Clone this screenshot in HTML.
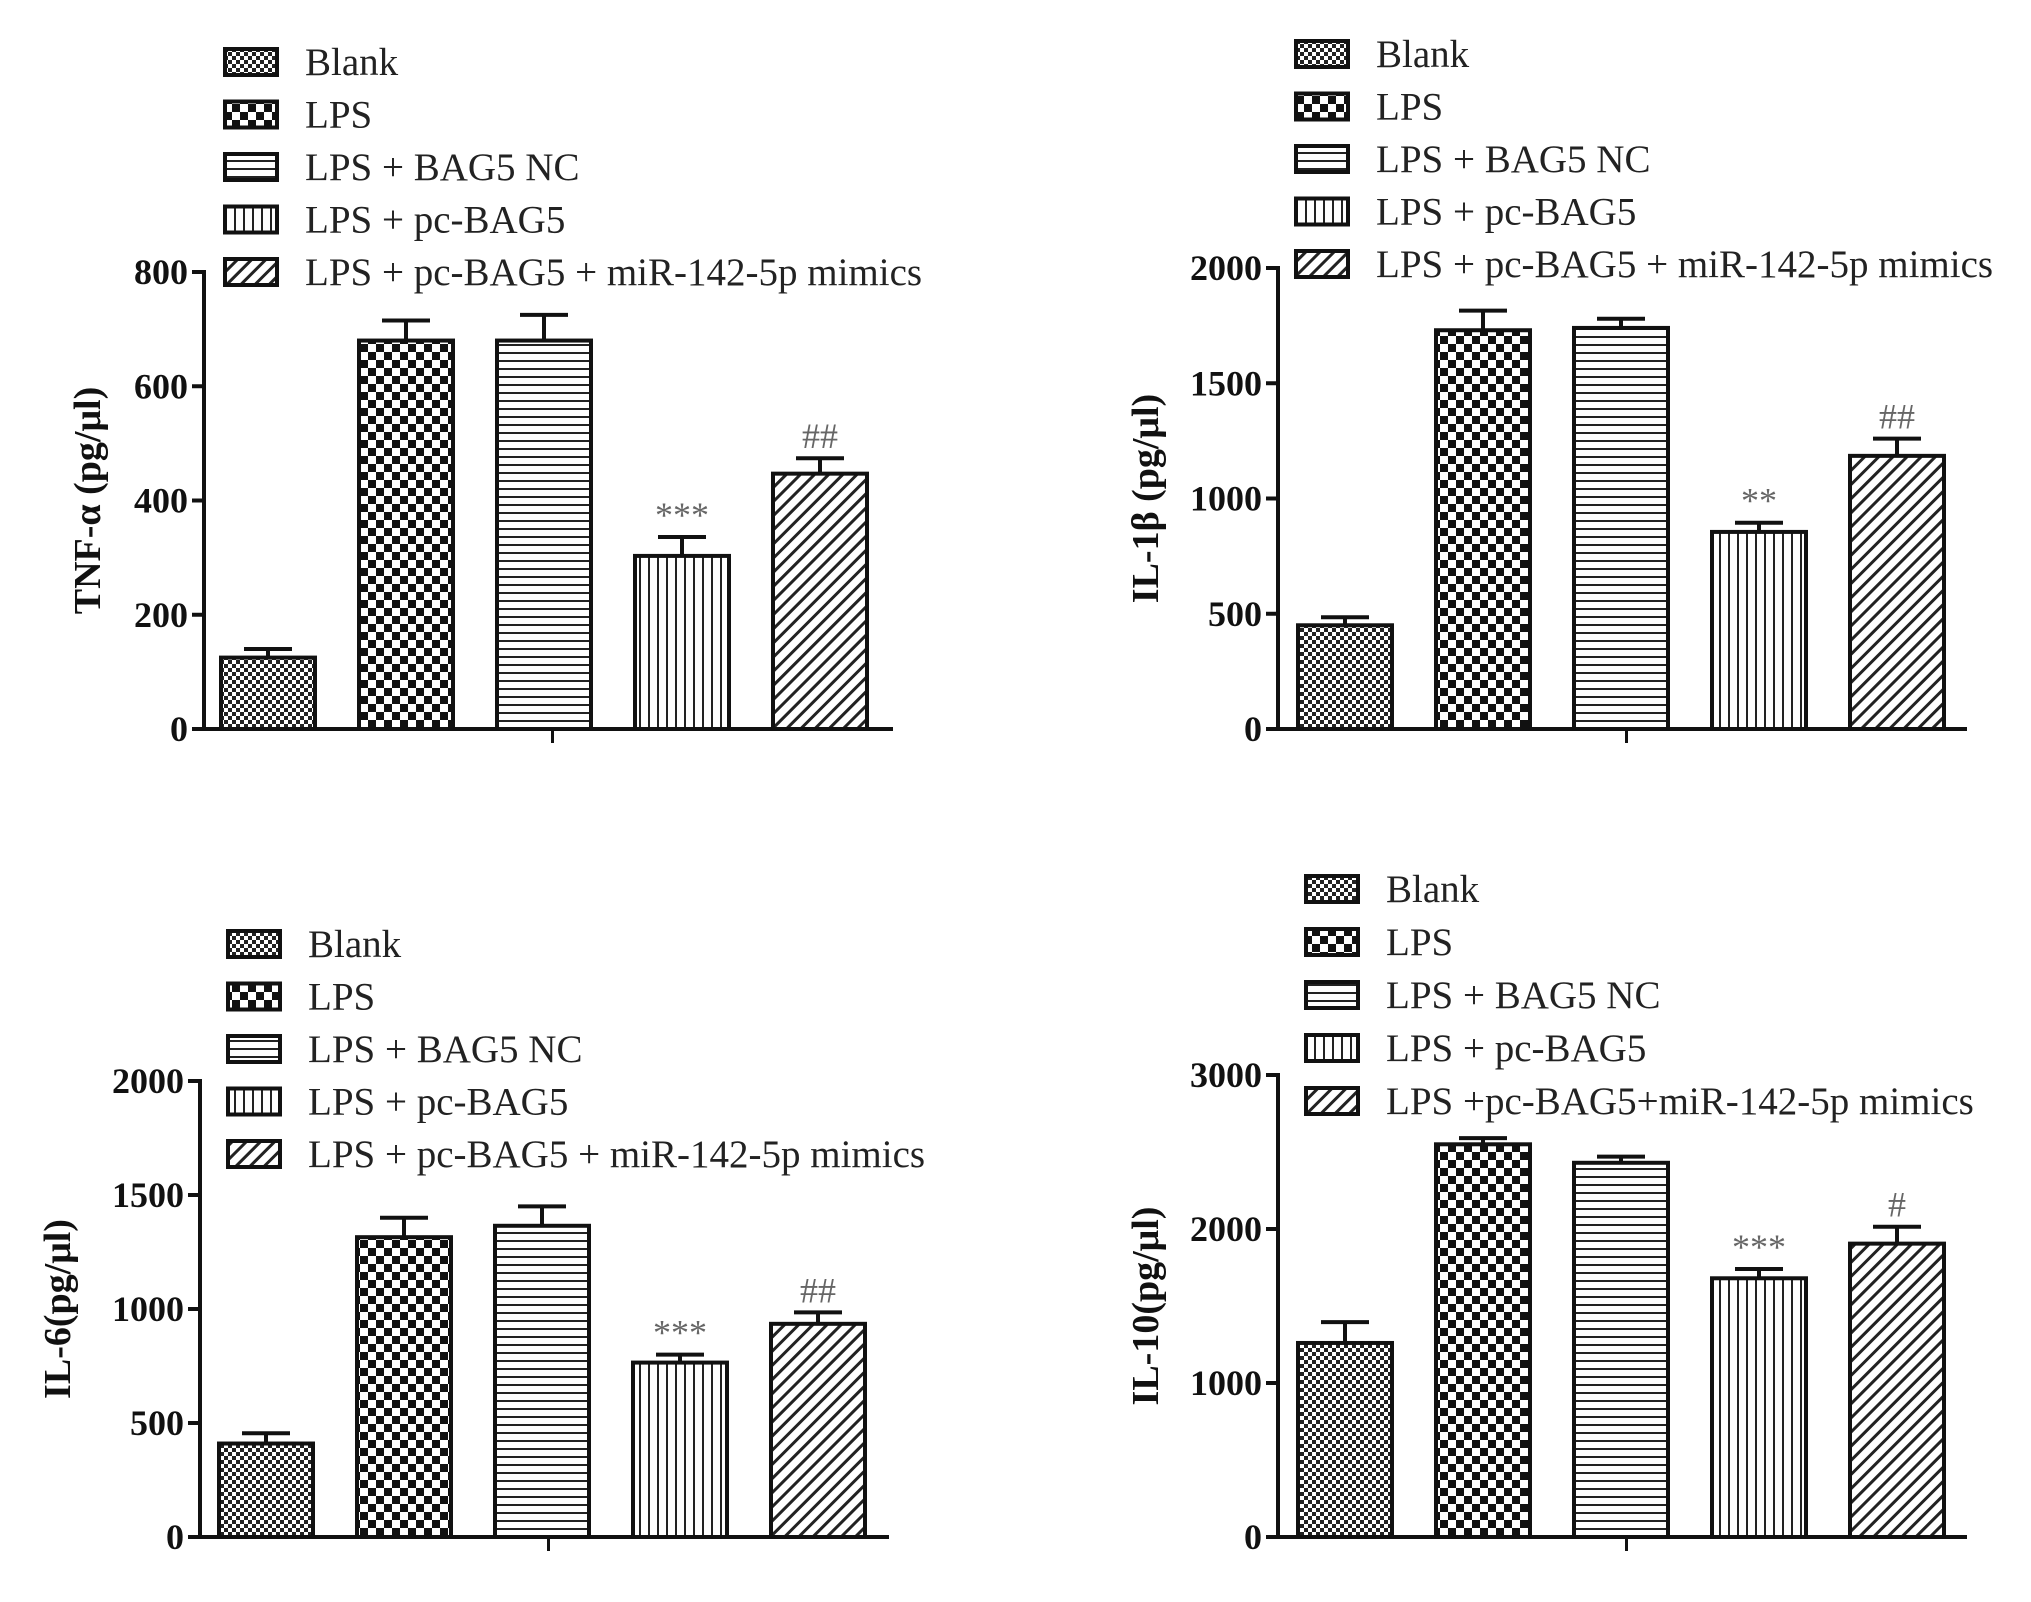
<!DOCTYPE html>
<html><head><meta charset="utf-8"><style>
html,body{margin:0;padding:0;background:#fff;}
svg{display:block;font-family:"Liberation Serif",serif;}
</style></head><body>
<svg id="fig" width="2031" height="1602" viewBox="0 0 2031 1602" xmlns="http://www.w3.org/2000/svg">
<defs>
<pattern id="p-blank" width="8" height="8" patternUnits="userSpaceOnUse"><rect width="8" height="8" fill="#fff"/><rect width="4" height="4" fill="#222"/><rect x="4" y="4" width="4" height="4" fill="#222"/></pattern>
<pattern id="p-lps" width="16" height="16" patternUnits="userSpaceOnUse"><rect width="16" height="16" fill="#fff"/><rect width="8" height="8" fill="#111"/><rect x="8" y="8" width="8" height="8" fill="#111"/></pattern>
<pattern id="p-nc" width="10" height="8" patternUnits="userSpaceOnUse"><rect width="10" height="8" fill="#fff"/><rect y="0" width="10" height="2" fill="#222"/></pattern>
<pattern id="p-pc" width="9" height="10" patternUnits="userSpaceOnUse"><rect width="9" height="10" fill="#fff"/><rect x="0" width="2" height="10" fill="#222"/></pattern>
<pattern id="p-mim" width="10" height="10" patternUnits="userSpaceOnUse" patternTransform="rotate(45)"><rect width="10" height="10" fill="#fff"/><rect width="3" height="10" fill="#222"/></pattern>
</defs>
</svg>
<script>
const groups = ["Blank","LPS","LPS + BAG5 NC","LPS + pc-BAG5","LPS + pc-BAG5 + miR-142-5p mimics"];
const fills = ["p-blank","p-lps","p-nc","p-pc","p-mim"];
const tnfValues = [125, 680, 680, 303, 447];
const tnfErrors = [15, 35, 45, 33, 27];
const tnfMarks = ["", "", "", "***", "##"];
const tnfTicks = [0, 200, 400, 600, 800];
const il1Values = [450, 1730, 1740, 855, 1185];
const il1Errors = [35, 85, 40, 40, 75];
const il1Marks = ["", "", "", "**", "##"];
const il1Ticks = [0, 500, 1000, 1500, 2000];
const il6Values = [410, 1315, 1365, 765, 935];
const il6Errors = [45, 85, 85, 35, 50];
const il6Marks = ["", "", "", "***", "##"];
const il6Ticks = [0, 500, 1000, 1500, 2000];
const il10Values = [1260, 2550, 2430, 1680, 1905];
const il10Errors = [135, 40, 40, 60, 110];
const il10Marks = ["", "", "", "***", "#"];
const il10Ticks = [0, 1000, 2000, 3000];
const il10Legend = ["Blank","LPS","LPS + BAG5 NC","LPS + pc-BAG5","LPS +pc-BAG5+miR-142-5p mimics"];

const NS = "http://www.w3.org/2000/svg";
const svg = document.getElementById("fig");
function mk(tag, attrs, parent, text){
  const e = document.createElementNS(NS, tag);
  for (const k in attrs) e.setAttribute(k, attrs[k]);
  if (text !== undefined) e.textContent = text;
  (parent || svg).appendChild(e);
  return e;
}
function panel(cfg){
  const g = mk("g", {});
  
  
  const max = cfg.ticks[cfg.ticks.length-1];
  const y = v => cfg.y0 - (v / max) * (cfg.y0 - cfg.yTop);
  cfg.values.forEach((v, i) => {
    const bx = cfg.barX0 + i * cfg.step;
    const cx = bx + cfg.bw / 2;
    const ey = y(v + cfg.errors[i]);
    const ln = mk("line", {x1:cx, x2:cx, y1:y(v), y2:ey, stroke:"#111", "stroke-width":4}, g);
    
    
    const cap = mk("line", {x1:cx-24, x2:cx+24, y1:ey, y2:ey, stroke:"#111", "stroke-width":4}, g);
    
    
    const r = mk("rect", {x:bx, y:y(v), width:cfg.bw, height:cfg.y0 - y(v), fill:"url(#"+fills[i]+")", stroke:"#111", "stroke-width":4}, g);
    
    
    if (cfg.marks[i]) {
      const t = mk("text", {x:cx, y:ey-10, "text-anchor":"middle", "font-size":36, fill:"#666"}, g, cfg.marks[i]);
      
      
    }
  });
  const ya = mk("line", {x1:cfg.x0, x2:cfg.x0, y1:cfg.yTop-2, y2:cfg.y0+2, stroke:"#111", "stroke-width":4}, g);
  
  
  const xa = mk("line", {x1:cfg.x0-2, x2:cfg.xEnd, y1:cfg.y0, y2:cfg.y0, stroke:"#111", "stroke-width":4}, g);
  
  
  const midx = (cfg.x0 + cfg.xEnd) / 2 + 4;
  mk("line", {x1:midx, x2:midx, y1:cfg.y0, y2:cfg.y0+14, stroke:"#111", "stroke-width":3}, g);
  cfg.ticks.forEach(tv => {
    const ty = y(tv);
    mk("line", {x1:cfg.x0-12, x2:cfg.x0, y1:ty, y2:ty, stroke:"#111", "stroke-width":4}, g);
    const t = mk("text", {x:cfg.x0-16, y:ty+12, "text-anchor":"end", "font-size":36, "font-weight":"bold", fill:"#111"}, g, tv);
    
    
  });
  const ty = (cfg.y0 + cfg.yTop) / 2;
  const tt = mk("text", {x:cfg.titleX, y:ty, "text-anchor":"middle", "font-size":38, "font-weight":"bold", fill:"#111", transform:"rotate(-90 "+cfg.titleX+" "+ty+")"}, g, cfg.title);
  
  
  cfg.legend.forEach((lab, i) => {
    const ly = cfg.legY + i * cfg.legStep;
    const le = mk("g", {}, g);
    
    
    mk("rect", {x:cfg.legX, y:ly-13, width:52, height:26, fill:"url(#"+fills[i]+")", stroke:"#111", "stroke-width":4}, le);
    mk("text", {x:cfg.legX+80, y:ly+13, "font-size":39, fill:"#222"}, le, lab);
  });
}
panel({name:"tnf-alpha-chart", values:tnfValues, errors:tnfErrors, marks:tnfMarks, ticks:tnfTicks, title:"TNF-α (pg/μl)",
  x0:204, xEnd:893, y0:729, yTop:272, barX0:221, step:138, bw:94, titleX:100, legend:groups, legX:225, legY:62, legStep:52.5});
panel({name:"il-1beta-chart", values:il1Values, errors:il1Errors, marks:il1Marks, ticks:il1Ticks, title:"IL-1β  (pg/μl)",
  x0:1278, xEnd:1967, y0:729, yTop:268, barX0:1298, step:138, bw:94, titleX:1158, legend:groups, legX:1296, legY:54, legStep:52.5});
panel({name:"il-6-chart", values:il6Values, errors:il6Errors, marks:il6Marks, ticks:il6Ticks, title:"IL-6(pg/μl)",
  x0:200, xEnd:889, y0:1537, yTop:1081, barX0:219, step:138, bw:94, titleX:70, legend:groups, legX:228, legY:944, legStep:52.5});
panel({name:"il-10-chart", values:il10Values, errors:il10Errors, marks:il10Marks, ticks:il10Ticks, title:"IL-10(pg/μl)",
  x0:1278, xEnd:1967, y0:1537, yTop:1075, barX0:1298, step:138, bw:94, titleX:1158, legend:il10Legend, legX:1306, legY:889, legStep:53});
</script>
</body></html>
